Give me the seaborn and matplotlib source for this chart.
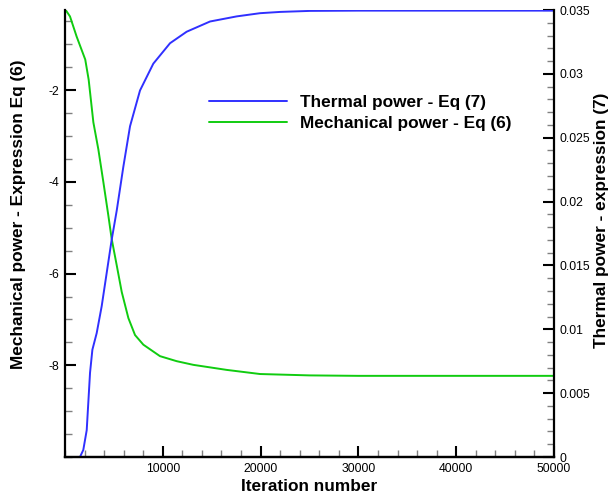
import numpy as np
import pandas as pd
import matplotlib
matplotlib.use("Agg")
import matplotlib.pyplot as plt
from matplotlib.ticker import MultipleLocator
import seaborn as sns

# Mechanical power (left axis)
mech_iter = [0, 100, 510, 1190, 2070, 2420, 2900, 3410, 3920, 4430, 4770, 5290, 5800,
             6480, 7160, 8010, 9710, 11420, 13120, 16530, 19940, 25000, 30000, 40000, 50000]
mech_val = [-0.25, -0.26, -0.39, -0.83, -1.33, -1.77, -2.70, -3.29, -4.00, -4.73, -5.24,
            -5.82, -6.40, -6.97, -7.34, -7.55, -7.80, -7.91, -7.99, -8.10, -8.19, -8.22,
            -8.23, -8.23, -8.23]

# Thermal power (right axis)
therm_iter = [0, 1530, 1870, 2220, 2560, 2800, 3240, 3750, 4260, 4770, 5290, 5960, 6650,
              7670, 9030, 10740, 12440, 14830, 17560, 19940, 22000, 25050, 30000, 40000, 50000]
therm_val = [0.0, 0.0, 0.00055, 0.0021, 0.0066, 0.0084, 0.0097, 0.0118, 0.0144, 0.0170,
             0.0193, 0.0227, 0.0259, 0.0287, 0.0308, 0.0324, 0.0333, 0.0341, 0.0345,
             0.03475, 0.03485, 0.03493, 0.03495, 0.03495, 0.03495]

left_ticks = [-2, -4, -6, -8]
right_ticks = [0, 0.005, 0.01, 0.015, 0.02, 0.025, 0.03, 0.035]
right_ticklabels = ["0", "0.005", "0.01", "0.015", "0.02", "0.025", "0.03", "0.035"]
x_ticks = [10000, 20000, 30000, 40000, 50000]

sns.set_style("white")
plt.rcParams['font.family'] = ['Liberation Sans', 'DejaVu Sans']
plt.rcParams['text.color'] = 'black'
plt.rcParams['axes.labelcolor'] = 'black'

blue = "#3030ff"
green = "#10cc10"

fig = plt.figure(figsize=(6.10, 4.99), dpi=100)
ax = fig.add_axes([65/610, 1-457/499, (554-65)/610, (457-10)/499])
ax2 = ax.twinx()

df_m = pd.DataFrame({"it": mech_iter, "val": mech_val})
df_t = pd.DataFrame({"it": therm_iter, "val": therm_val})

sns.lineplot(data=df_t, x="it", y="val", ax=ax2, color=blue, lw=1.4,
             label="Thermal power - Eq (7)", legend=False)
sns.lineplot(data=df_m, x="it", y="val", ax=ax, color=green, lw=1.4,
             label="Mechanical power - Eq (6)", legend=False)

ax.set_xlim(0, 50000)
ax.set_ylim(-10, -0.25)
ax2.set_ylim(0, 0.035)

ax.set_xticks(x_ticks)
ax.set_xticklabels([str(t) for t in x_ticks])
ax.xaxis.set_minor_locator(MultipleLocator(2000))
ax.set_yticks(left_ticks)
ax.set_yticklabels([str(t) for t in left_ticks])
ax.yaxis.set_minor_locator(MultipleLocator(0.5))
ax2.set_yticks(right_ticks)
ax2.set_yticklabels(right_ticklabels)
ax2.yaxis.set_minor_locator(MultipleLocator(0.001))

for a in (ax, ax2):
    a.spines['top'].set_visible(False)
    for s in a.spines.values():
        s.set_linewidth(1.6)
        s.set_color("black")
    a.tick_params(which="major", direction="in", length=8, width=1.5, labelsize=8.8,
                  colors="black", pad=4)
    a.tick_params(which="minor", direction="in", length=5, width=1.0, color="#808080")

ax.spines['right'].set_visible(False)
ax2.spines['left'].set_visible(False)
ax.tick_params(axis="y", which="both", left=True, right=False)
ax.tick_params(axis="x", which="both", bottom=True, top=False)
ax2.tick_params(axis="y", which="both", right=True, left=False)

ax.set_xlabel("Iteration number", fontsize=12.4, fontweight="bold")
ax.xaxis.set_label_coords(0.5, -0.065)
ax.xaxis.label.set_va("center")
ax.set_ylabel("Mechanical power - Expression Eq (6)", fontsize=12.4, fontweight="bold")
ax.yaxis.set_label_coords(-0.096, 0.544)
ax.yaxis.label.set_va("center")
ax2.set_ylabel("Thermal power - expression (7)", fontsize=12.4, fontweight="bold")
ax2.yaxis.set_label_coords(1.098, 0.530)
ax2.yaxis.label.set_va("center")

h1, l1 = ax2.get_legend_handles_labels()
h2, l2 = ax.get_legend_handles_labels()
leg = ax2.legend(h1 + h2, l1 + l2, loc="upper left", bbox_to_anchor=(0.2945, 0.811),
                 frameon=False, handlelength=4.5, handletextpad=0.8, labelspacing=0.35,
                 borderpad=0, borderaxespad=0,
                 prop={"weight": "bold", "size": 12.4})

fig.savefig("out.png", dpi=100)
